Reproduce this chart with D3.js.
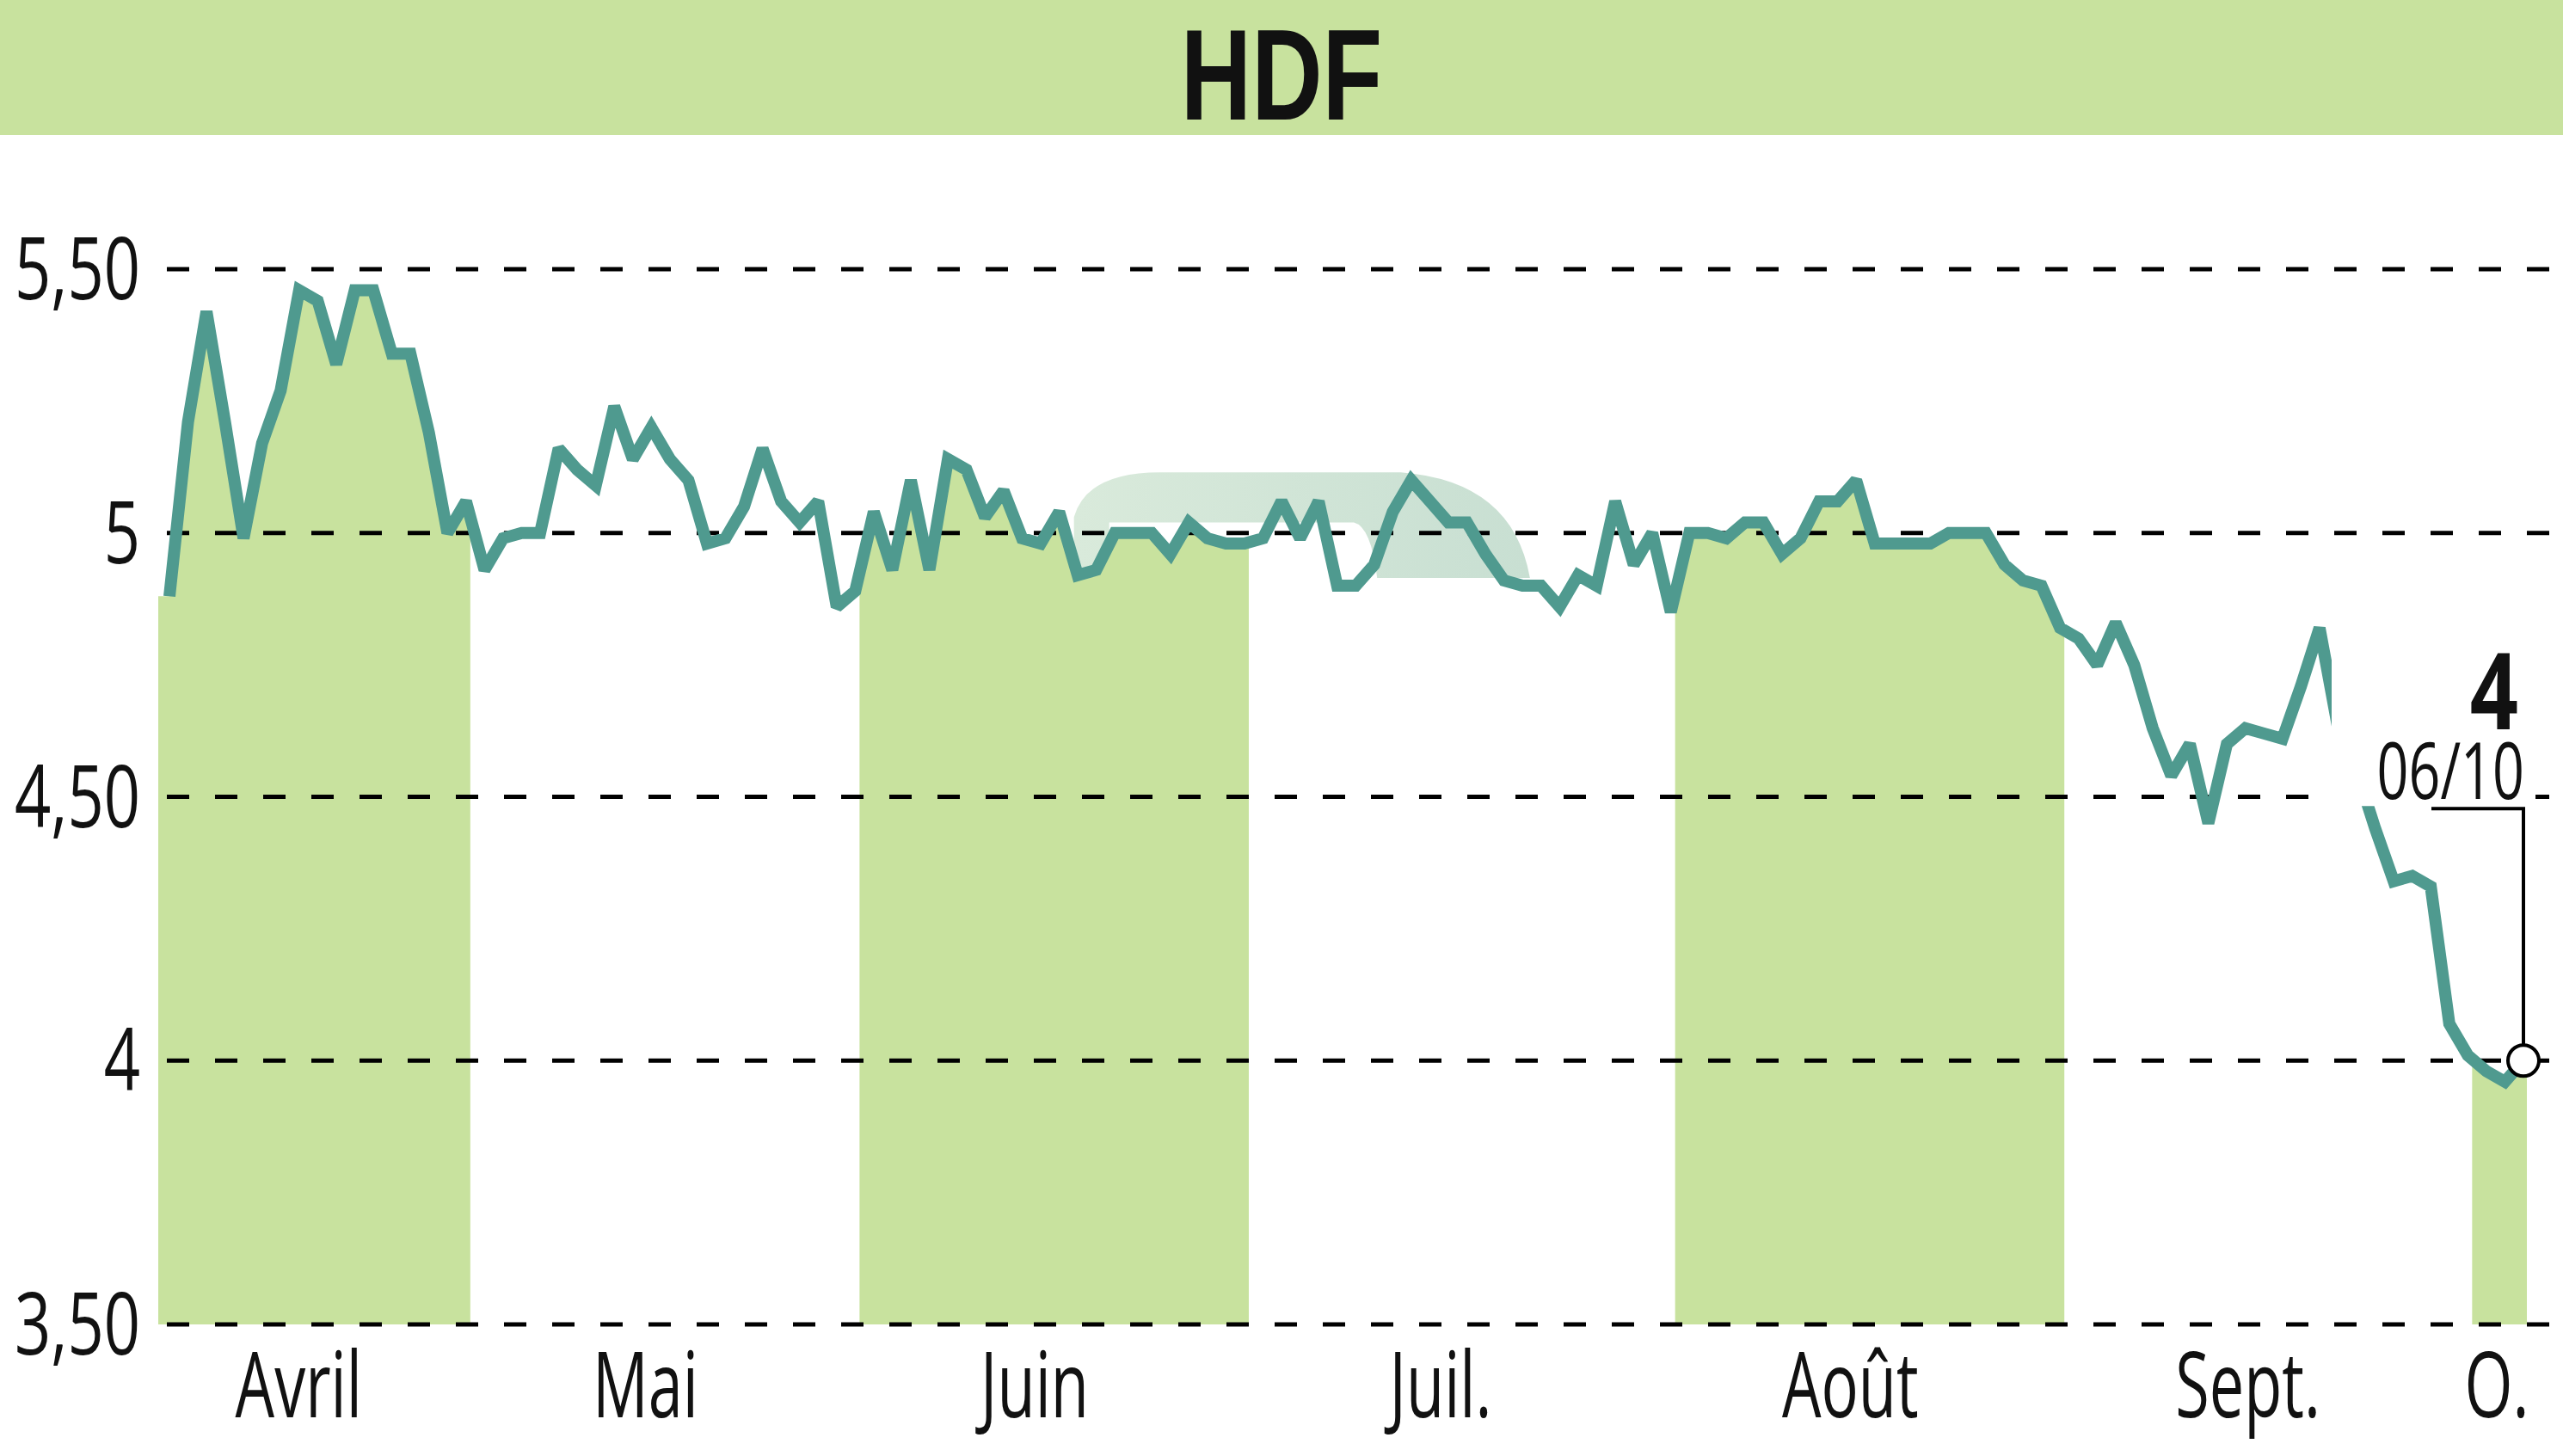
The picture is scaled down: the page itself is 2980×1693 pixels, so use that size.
<!DOCTYPE html>
<html>
<head>
<meta charset="utf-8">
<script src="https://cdn.jsdelivr.net/npm/d3@7"></script>
<style>
html,body{margin:0;padding:0;background:#ffffff;}
svg{display:block;}
</style>
</head>
<body>
<svg id="chart" width="2980" height="1693"></svg>
<script>
// ---------- DATA ----------
const title = "HDF";
const months = ["Avril", "Mai", "Juin", "Juil.", "Août", "Sept.", "O."];
// trading-day index of the first session of each month
const monthStart = [0, 16, 37, 58, 81, 102, 124];
const yTicks = [3.5, 4, 4.5, 5, 5.5];
const yTickLabels = ["3,50", "4", "4,50", "5", "5,50"];
const lastValueLabel = "4";
const lastDateLabel = "06/10";
// daily closing prices (one per trading day)
const prices = [
  4.88, 5.21, 5.42, 5.21, 4.99, 5.17, 5.27, 5.46, 5.44, 5.32,
  5.46, 5.46, 5.34, 5.34, 5.19, 5.00, 5.06, 4.93, 4.99, 5.00,
  5.00, 5.16, 5.12, 5.09, 5.24, 5.14, 5.20, 5.14, 5.10, 4.98,
  4.99, 5.05, 5.16, 5.06, 5.02, 5.06, 4.86, 4.89, 5.04, 4.93,
  5.10, 4.93, 5.14, 5.12, 5.03, 5.08, 4.99, 4.98, 5.04, 4.92,
  4.93, 5.00, 5.00, 5.00, 4.96, 5.02, 4.99, 4.98, 4.98, 4.99,
  5.06, 4.99, 5.06, 4.90, 4.90, 4.94, 5.04, 5.10, 5.06, 5.02,
  5.02, 4.96, 4.91, 4.90, 4.90, 4.86, 4.92, 4.90, 5.06, 4.94,
  5.00, 4.85, 5.00, 5.00, 4.99, 5.02, 5.02, 4.96, 4.99, 5.06,
  5.06, 5.10, 4.98, 4.98, 4.98, 4.98, 5.00, 5.00, 5.00, 4.94,
  4.91, 4.90, 4.82, 4.80, 4.75, 4.83, 4.75, 4.63, 4.54, 4.60,
  4.45, 4.60, 4.63, 4.62, 4.61, 4.71, 4.82, 4.63, 4.55, 4.44,
  4.34, 4.35, 4.33, 4.07, 4.01, 3.98, 3.96, 4.00
];

// ---------- LAYOUT ----------
const W = 2980, H = 1693;
const green = "#c8e29e";
const teal = "#4f9a8f";
const ink = "#111111";
const font = "'Open Sans', 'DejaVu Sans', sans-serif";

const svg = d3.select("#chart");
const n = prices.length;
const x = d3.scaleLinear().domain([0, n - 1]).range([197, 2934]);
const y = d3.scaleLinear().domain([3.5, 5.5]).range([1540, 313]);

function addText(txt, tx, ty, size, weight, sx, anchor, fam) {
  return svg.append("text")
    .attr("transform", `translate(${tx},${ty}) scale(${sx},1)`)
    .attr("text-anchor", anchor)
    .attr("font-family", fam || font)
    .attr("font-size", size)
    .attr("font-weight", weight)
    .attr("fill", ink)
    .text(txt);
}

// ---------- TITLE BAND ----------
svg.append("rect").attr("x", 0).attr("y", 0).attr("width", W).attr("height", 157).attr("fill", green);
addText(title, W / 2, 139, 150, 700, 0.76, "middle", "'Liberation Sans', Arial, sans-serif");

// ---------- WATERMARK (faint rounded shape) ----------
const defs = svg.append("defs");
const grad = defs.append("linearGradient").attr("id", "wm").attr("x1", "0").attr("x2", "1").attr("y1", "0").attr("y2", "0");
grad.append("stop").attr("offset", "0").attr("stop-color", "#d9eadb");
grad.append("stop").attr("offset", "1").attr("stop-color", "#c8dfd2");
{
  const L = x(48.8), R = x(73.4), T = y(5.115), B = y(4.915);
  const iL = x(50.7), iR = x(64.6), iT = y(5.02);
  const p = d3.path();
  p.moveTo(L, B);
  p.lineTo(L, T + 52);
  p.quadraticCurveTo(L + 15, T, L + 100, T);
  p.lineTo(R - 150, T);
  p.quadraticCurveTo(R - 20, T + 10, R, B);
  p.closePath();
  p.moveTo(iL, B);
  p.lineTo(iL, iT);
  p.lineTo(iR - 15, iT);
  p.quadraticCurveTo(iR + 5, iT + 5, iR + 12, B);
  p.closePath();
  svg.append("path").attr("d", p.toString()).attr("fill", "url(#wm)").attr("fill-rule", "evenodd");
}

// ---------- MONTH BANDS (area under the line, alternate months) ----------
const edges = monthStart.map((s, k) => k === 0 ? x(s) - 13 : x(s) + 5);
edges.push(x(n - 1) + 4);
const clip = defs.append("clipPath").attr("id", "bands");
months.forEach((m, k) => {
  if (k % 2 === 0) {
    clip.append("rect").attr("x", edges[k]).attr("y", 0)
      .attr("width", edges[k + 1] - edges[k]).attr("height", H);
  }
});
const areaPts = [[-1, prices[0]]].concat(prices.map((v, i) => [i, v]), [[n, prices[n - 1]]]);
const area = d3.area().x(d => x(d[0])).y0(y(3.5)).y1(d => y(d[1]));
svg.append("path").attr("d", area(areaPts)).attr("fill", green).attr("clip-path", "url(#bands)");

// ---------- GRID ----------
svg.append("g").selectAll("line").data(yTicks).join("line")
  .attr("x1", 194).attr("x2", W)
  .attr("y1", d => y(d)).attr("y2", d => y(d))
  .attr("stroke", "#000").attr("stroke-width", 5)
  .attr("stroke-dasharray", "26 30");

// ---------- Y LABELS ----------
yTicks.forEach((t, k) => {
  addText(yTickLabels[k], 163, y(t) + 35, 100, 400, 0.74, "end");
});

// ---------- MONTH LABELS ----------
months.forEach((m, k) => {
  const cx = edges[k] + 0.45 * (edges[k + 1] - edges[k]);
  addText(m, cx, 1648, 106, 400, 0.68, "middle");
});

// ---------- PRICE LINE ----------
const line = d3.line().x((d, i) => x(i)).y(d => y(d));
svg.append("path").attr("d", line(prices))
  .attr("fill", "none").attr("stroke", teal).attr("stroke-width", 14)
  .attr("stroke-linejoin", "miter").attr("stroke-miterlimit", 2);

// ---------- LAST VALUE ANNOTATION ----------
const lx = x(n - 1), ly = y(prices[n - 1]);
svg.append("rect").attr("x", lx - 223).attr("y", ly - 490).attr("width", 237).attr("height", 194).attr("fill", "#fff");
addText(lastValueLabel, lx - 6, ly - 385, 123, 700, 0.8, "end");
addText(lastDateLabel, lx + 1, ly - 304, 91, 400, 0.71, "end");
svg.append("path").attr("d", `M${lx - 107},${ly - 293}H${lx}V${ly - 19}`)
  .attr("fill", "none").attr("stroke", "#000").attr("stroke-width", 4);
svg.append("circle").attr("cx", lx).attr("cy", ly).attr("r", 18)
  .attr("fill", "#fff").attr("stroke", "#000").attr("stroke-width", 4);
</script>
</body>
</html>
